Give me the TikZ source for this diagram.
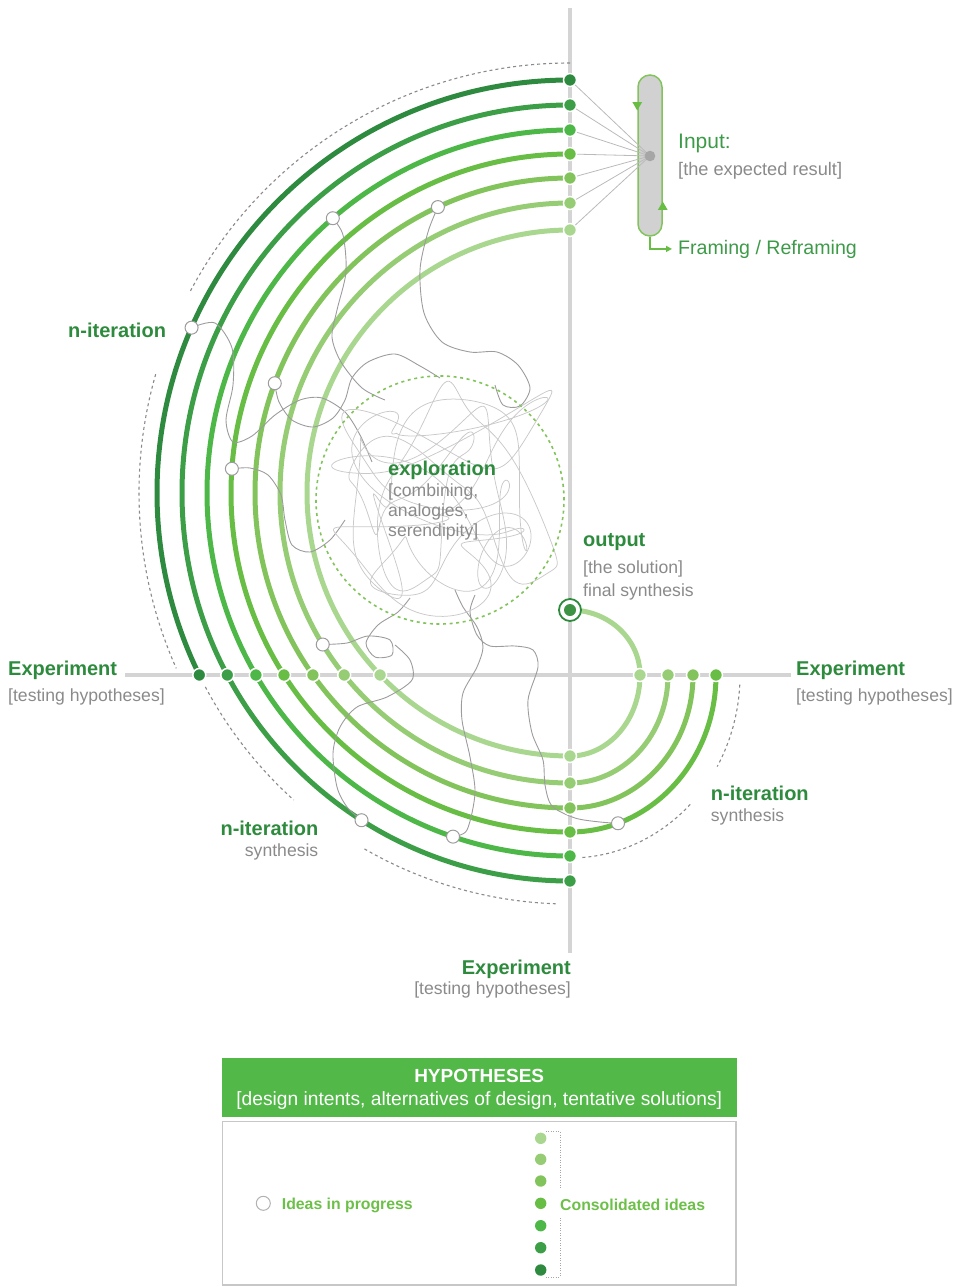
\documentclass[tikz,border=0pt]{standalone}
\usepackage{fontspec}
\setmainfont{Liberation Sans}
\usetikzlibrary{shapes.geometric, arrows.meta, calc}
\definecolor{cA}{HTML}{2E8A3F}
\definecolor{cB}{HTML}{3C9F47}
\definecolor{cC}{HTML}{4DB748}
\definecolor{cD}{HTML}{68BD45}
\definecolor{cE}{HTML}{82C45B}
\definecolor{cF}{HTML}{96CC74}
\definecolor{cG}{HTML}{A9D78F}
\definecolor{tgreen}{HTML}{2E8B3E}
\definecolor{igreen}{HTML}{3D9A48}
\definecolor{lgreen}{HTML}{6CBF47}
\definecolor{tgray}{HTML}{8A8A8A}
\definecolor{axgray}{HTML}{D4D4D4}
\definecolor{wgray}{HTML}{9C9C9C}
\definecolor{hgreen}{HTML}{52B848}
\pgfdeclarelayer{bg}
\pgfsetlayers{bg,main}
\tikzset{
  axisline/.style={draw=axgray, line width=4pt},
  arcline/.style={line width=5pt},
  dashline/.style={draw=tgray, line width=1.1pt, dash pattern=on 3pt off 3pt},
  hdot/.style={circle, draw=white, line width=1.5pt, minimum size=13pt, inner sep=0pt},
  gdot/.style={circle, minimum size=11.4pt, inner sep=0pt},
  idea/.style={circle, draw=wgray, fill=white, line width=1pt, minimum size=13pt, inner sep=0pt},
  feed/.style={draw=wgray!70, line width=0.8pt},
  wig/.style={draw=wgray, line width=0.9pt},
  tangle/.style={draw=black!21, line width=0.75pt},
  explo/.style={draw=cE, line width=1.6pt, dash pattern=on 3pt off 3.6pt},
  inpill/.style={rectangle, rounded corners=12pt, minimum width=24pt, minimum height=161pt, fill=black!18, draw=cE, line width=1.5pt},
  tri/.style={regular polygon, regular polygon sides=3, minimum size=11pt, inner sep=0pt, fill=cD},
  framearrow/.style={draw=cD, line width=2pt, -{Triangle[length=6pt,width=6pt]}, shorten >=6pt},
  lab/.style={font=\fontsize{20pt}{22pt}\selectfont\bfseries, text=tgreen, inner sep=0pt},
  sub/.style={font=\fontsize{17.6pt}{20pt}\selectfont, text=tgray, inner sep=0pt},
  inlab/.style={font=\fontsize{19.6pt}{22pt}\selectfont, text=igreen, inner sep=0pt},
  leglab/.style={font=\fontsize{15.8pt}{18pt}\selectfont\bfseries, text=lgreen, inner sep=0pt},
  brk/.style={draw=black!35, line width=0.8pt, dash pattern=on 1pt off 1.5pt}
}

\begin{document}
\begin{tikzpicture}[x=1pt, y=1pt]
\useasboundingbox (0,0) rectangle (960,-1287);

        \coordinate (O) at (570,-493);  % centre of the big arcs
        \coordinate (X) at (570,-675);  % crossing of the axes
        \coordinate (vtop) at (570,-8);
        \coordinate (vbot) at (570,-953);
        \coordinate (hleft) at (125,-675);
        \coordinate (hright) at (791,-675);

        % Dots on the axes
        \foreach \i/\R/\c in {0/413/cA,1/388/cB,2/363/cC,3/339/cD,4/315/cE,5/290/cF,6/263/cG}
          \node[hdot, fill=\c] (t\i) at ($(O)+(90:\R)$) {};
        \foreach \i/\x/\c in {0/199.3/cA,1/227.3/cB,2/255.9/cC,3/284/cD,4/312.9/cE,5/344.2/cF,6/380.1/cG}
          \node[hdot, fill=\c] (l\i) at (\x,-675) {};
        \foreach \i/\R/\c in {1/388/cB,2/363/cC,3/339/cD,4/315/cE,5/290/cF,6/263/cG}
          \node[hdot, fill=\c] (b\i) at ($(O)+(270:\R)$) {};
        \foreach \i/\a/\c in {3/146/cD,4/123/cE,5/98/cF,6/70/cG}
          \node[hdot, fill=\c] (r\i) at ($(X)+(\a,0)$) {};

        % Ideas in progress
        \node[idea] (w0) at ($(O)+(156.4:413)$) {};
        \node[idea] (w2) at ($(O)+(130.8:363)$) {};
        \node[idea] (w4b) at ($(O)+(114.8:315)$) {};
        \node[idea] (w4a) at ($(O)+(159.6:315)$) {};
        \node[idea] (w3) at ($(O)+(175.9:339)$) {};
        \node[idea] (w5) at ($(O)+(211.5:290)$) {};
        \node[idea] (w1) at ($(O)+(237.5:388)$) {};
        \node[idea] (w2b) at ($(O)+(251.2:363)$) {};
        \node[idea] (w3b) at ($(X)+({146*cos(-70.8)},{157*sin(-70.8)})$) {};

        % Output
        \node[circle, draw=tgreen, fill=white, line width=1.8pt, minimum size=22pt, inner sep=0pt] (out) at (570,-610) {};
        \node[circle, fill=cA!85!cE, minimum size=12pt, inner sep=0pt] (outc) at (out) {};

        % Input
        \node[inpill] (inbox) at (650,-155.5) {};
        \foreach \i in {0,...,6}
          \draw[feed] (t\i) -- (650,-156);
        \node[circle, fill=black!35, minimum size=10.6pt, inner sep=0pt] (inp) at (650,-156) {};
        \node[tri, rotate=180] (tdn) at ([yshift=50.5pt]inbox.west) {};
        \node[tri] (tup) at ([yshift=-51.5pt]inbox.east) {};

        % Labels
        \node[inlab, font=\fontsize{21pt}{24pt}\selectfont, anchor=base west] (inL) at (678,-148) {Input:};
        \node[sub, font=\fontsize{18.2pt}{21pt}\selectfont, anchor=base west] (inS) at ([yshift=-27pt]inL.base west) {[the expected result]};
        \node[inlab, anchor=base west] (frm) at (678,-254) {Framing / Reframing};
        \draw[framearrow] (inbox.south) |- (frm.west);

        \node[lab, anchor=base west] (itTL) at (68,-337) {n-iteration};
        \node[lab, anchor=base west] (expl) at (388,-475) {exploration};
        \node[sub, anchor=base west] (expl1) at ([yshift=-21.7pt]expl.base west) {[combining,};
        \node[sub, anchor=base west] (expl2) at ([yshift=-20pt]expl1.base west) {analogies,};
        \node[sub, anchor=base west] (expl3) at ([yshift=-20pt]expl2.base west) {serendipity]};
        \node[lab, anchor=base west] (outL) at (583,-546.7) {output};
        \node[sub, anchor=base west] (outS1) at ([yshift=-26.6pt]outL.base west) {[the solution]};
        \node[sub, anchor=base west] (outS2) at ([yshift=-22.7pt]outS1.base west) {final synthesis};
        \node[lab, anchor=base west] (expW) at (8,-675) {Experiment};
        \node[sub, anchor=base west] (expWs) at ([yshift=-26pt]expW.base west) {[testing hypotheses]};
        \node[lab, anchor=base west] (expE) at (796,-675) {Experiment};
        \node[sub, anchor=base west] (expEs) at ([yshift=-26pt]expE.base west) {[testing hypotheses]};
        \node[lab, anchor=base west] (itR) at (710.7,-800) {n-iteration};
        \node[sub, anchor=base west] (itRs) at ([yshift=-21.5pt]itR.base west) {synthesis};
        \node[lab, anchor=base east] (itL) at (318.5,-835) {n-iteration};
        \node[sub, anchor=base east] (itLs) at ([yshift=-21.7pt]itL.base east) {synthesis};
        \node[lab, anchor=base east] (expS) at (571,-974.3) {Experiment};
        \node[sub, anchor=base east] (expSs) at ([yshift=-19.7pt]expS.base east) {[testing hypotheses]};

        % Legend
        \node[rectangle, fill=hgreen, minimum width=515pt, minimum height=58.4pt, inner sep=0pt] (hyp) at (479.2,-1087.5) {};
        \node[font=\fontsize{19pt}{22pt}\selectfont\bfseries, text=white, inner sep=0pt, anchor=base] (hypT) at (479.2,-1082.7) {HYPOTHESES};
        \node[font=\fontsize{19.2pt}{22pt}\selectfont, text=white, inner sep=0pt, anchor=base] (hypS) at (479.2,-1105) {[design intents, alternatives of design, tentative solutions]};
        \node[rectangle, draw=black!22, line width=1.5pt, minimum width=513.5pt, minimum height=163.5pt, inner sep=0pt] (leg) at (479.2,-1203.3) {};
        \node[idea, draw=black!30, minimum size=14pt] (legW) at (263.3,-1203.3) {};
        \node[leglab, anchor=base west] (legWt) at (281.7,-1209) {Ideas in progress};
        \foreach \i/\y/\c in {0/1138.3/cG,1/1159.3/cF,2/1181/cE,3/1203.3/cD,4/1225.7/cC,5/1247.7/cB,6/1270/cA}
          \node[gdot, fill=\c] (g\i) at (540.7,-\y) {};
        \node[leglab, anchor=base west] (cons) at (560,-1210) {Consolidated ideas};
        \draw[brk] ([xshift=5pt,yshift=1pt]g0.north) -| ([yshift=9pt]cons.north west);
        \draw[brk] ([xshift=5pt,yshift=-1pt]g6.south) -| ([yshift=-6pt]cons.south west);

        \begin{pgfonlayer}{bg}
        % Axes
        \draw[axisline] (vtop) -- (vbot);
        \draw[axisline] (hleft) -- (hright);

        % n-iteration marks
        \draw[dashline] (O) ++(90:430) arc[start angle=90, end angle=152, radius=430];
        \draw[dashline] (O) ++(164:431) arc[start angle=164, end angle=204, radius=431];
        \draw[dashline] (O) ++(208:413) arc[start angle=208, end angle=228, radius=413];
        \draw[dashline] (O) ++(240:411) arc[start angle=240, end angle=268, radius=411];
        \draw[dashline] (X) ++(-3:170 and 183) arc[start angle=-3, end angle=-30, x radius=170, y radius=183];
        \draw[dashline] (X) ++(-45:170 and 183) arc[start angle=-45, end angle=-86, x radius=170, y radius=183];

        % Iterations
        \draw[arcline, draw=cA] (t0.center) arc[start angle=90, end angle={180+asin(182/413)}, radius=413];
        \foreach \i/\R/\c in {1/388/cB,2/363/cC}
          \draw[arcline, draw=\c] (t\i.center) arc[start angle=90, end angle=270, radius=\R];
        \foreach \i/\R/\a/\c in {3/339/146/cD,4/315/123/cE,5/290/98/cF}
          \draw[arcline, draw=\c] (t\i.center) arc[start angle=90, end angle=270, radius=\R]
            arc[start angle=270, end angle=360, x radius=\a, y radius={\R-182}];
        \draw[arcline, draw=cG] (t6.center) arc[start angle=90, end angle=270, radius=263]
            arc[start angle=270, end angle=360, x radius=70, y radius=81]
            arc[start angle=0, end angle=90, x radius=70, y radius=65];

        % Paths of the ideas
        \draw[wig] plot[smooth] coordinates {(w0.center) (215,-323) (232,-348) (233,-385) (226,-420) (233,-442) (252,-436) (275,-415) (300,-400) (322,-398) (345,-412) (360,-435) (372,-462)};
        \draw[wig] plot[smooth] coordinates {(w4a.center) (279,-402) (292,-420) (313,-427) (333,-418) (345,-400) (352,-378) (368,-362) (395,-354) (420,-366) (440,-378)};
        \draw[wig] plot[smooth] coordinates {(w2.center) (343,-235) (346,-272) (337,-310) (332,-337) (341,-362) (362,-388) (385,-400)};
        \draw[wig] plot[smooth] coordinates {(w4b.center) (428,-232) (420,-270) (424,-313) (442,-342) (470,-352) (497,-352) (518,-365) (530,-388) (520,-406) (503,-405) (495,-385)};
        \draw[wig] plot[smooth] coordinates {(w3.center) (250,-468) (268,-475) (281,-495) (285,-520) (292,-545) (310,-552) (330,-540) (345,-520)};
        \draw[wig] plot[smooth] coordinates {(w5.center) (347,-643) (368,-636) (390,-640) (392,-655) (375,-657) (366,-643) (378,-625) (398,-612) (410,-598)};
        \draw[wig] plot[smooth] coordinates {(w1.center) (347,-807) (337,-787) (333,-753) (340,-727) (357,-707) (387,-697) (412,-680) (410,-660) (395,-645)};
        \draw[wig] plot[smooth] coordinates {(w2b.center) (467,-830) (475,-793) (470,-757) (462,-720) (463,-693) (477,-667) (483,-647) (477,-627) (463,-607) (455,-590)};
        \draw[wig] plot[smooth] coordinates {(w3b.center) (600,-822) (575,-818) (552,-806) (545,-785) (543,-760) (532,-733) (528,-700) (538,-667) (533,-650) (515,-646) (490,-646) (477,-635) (470,-612) (475,-595)};

        % Exploration
        \draw[tangle] plot[smooth, domain=0:360, samples=220, variable=\t]
          ({440+80*sin(\t)+30*sin(3*\t+40)+10*cos(7*\t)}, {-497+78*cos(2*\t+20)+30*sin(5*\t)+10*sin(8*\t+60)});
        \draw[tangle] plot[smooth, domain=0:360, samples=220, variable=\t]
          ({440+74*cos(2*\t+15)+34*sin(5*\t+70)+10*sin(9*\t)}, {-497+82*sin(\t+50)+28*cos(4*\t)+10*cos(7*\t+30)});
        \draw[tangle] plot[smooth, domain=0:360, samples=220, variable=\t]
          ({440+84*sin(3*\t+100)+25*cos(4*\t)+10*sin(10*\t+20)}, {-500+74*cos(\t+10)+32*sin(6*\t+45)+10*cos(9*\t)});
        \draw[tangle] plot[smooth, domain=0:360, samples=220, variable=\t]
          ({440+66*sin(2*\t+200)+44*cos(\t+30)+12*sin(6*\t)}, {-495+70*sin(3*\t+80)+38*cos(2*\t)+8*sin(11*\t)});
        \draw[explo] (440,-500) circle[radius=124];
        \end{pgfonlayer}
\end{tikzpicture}
\end{document}
